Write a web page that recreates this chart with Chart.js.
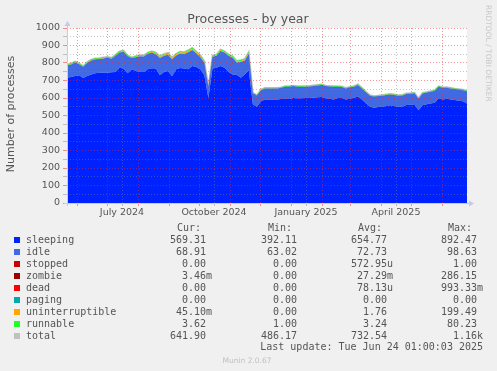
<!DOCTYPE html>
<html>
<head>
<meta charset="utf-8">
<script src="https://cdn.jsdelivr.net/npm/chart.js@4.4.0/dist/chart.umd.min.js"></script>
<style>
  html, body { margin: 0; padding: 0; background: #f0f0f0; }
  #wrap { width: 497px; height: 371px; }
</style>
</head>
<body>
<div id="wrap"><canvas id="procChart" width="497" height="371"></canvas></div>
<script>
// one sample every ~4 days over the 400 day window
const sleeping = [716,720,726,730,714,726,735,741,745,745,745,747,749,773,768,742,764,756,749,749,
  764,770,768,730,749,754,725,764,771,768,764,783,777,764,730,600,768,773,783,773,
  749,735,733,716,735,758,564,550,581,592,592,591,592,594,596,594,600,598,598,600,
  600,602,604,606,598,596,592,600,600,592,596,602,608,592,570,550,545,548,550,554,
  554,554,550,552,560,562,564,530,558,564,568,573,598,592,596,592,588,585,581,569];
const idle = [71,72,79,63,64,74,79,81,78,81,86,78,92,87,97,96,64,77,90,88,
  89,90,82,99,92,93,96,79,83,84,97,92,79,71,71,65,68,68,86,87,
  93,95,70,90,80,95,63,64,64,63,63,64,63,64,68,70,68,66,66,65,
  66,67,68,68,70,70,72,64,63,63,65,63,67,63,63,63,63,63,63,63,
  66,63,63,63,63,63,63,66,68,67,68,68,66,66,63,63,63,63,63,69];
const uninterruptible = [1,1,1,1,1,1,2,1,1,2,1,1,2,2,2,1,1,2,2,2,
  3,4,5,6,6,6,6,6,7,6,7,7,6,6,5,1,3,3,4,3,
  3,5,5,6,5,6,1,1,1,1,1,1,1,1,1,1,1,1,1,1,
  1,1,1,1,1,1,1,1,1,1,1,1,1,1,1,1,1,1,1,1,
  1,1,1,1,1,1,1,1,1,1,1,1,1,1,1,1,1,1,1,0];
const runnable = [4,5,4,5,4,5,5,4,5,5,4,5,5,6,5,5,4,5,5,5,
  5,5,5,5,5,6,5,5,6,5,6,6,5,5,5,3,5,5,5,5,
  5,5,5,5,5,6,2,2,3,3,3,3,3,3,3,3,3,3,3,3,
  3,3,3,3,3,3,3,3,3,3,3,3,3,3,3,3,3,3,3,3,
  3,3,3,3,3,3,3,3,3,3,3,3,3,3,3,3,3,3,3,4];
const total = [792,798,810,799,783,806,821,827,829,833,836,831,848,868,872,844,833,840,846,844,
  861,869,860,840,852,859,832,854,866,863,874,888,867,846,811,669,844,849,878,868,
  850,840,813,817,825,865,630,617,649,659,659,659,659,662,668,668,672,668,668,669,
  670,673,676,678,672,670,668,668,667,659,665,669,679,659,637,617,612,615,617,621,
  624,621,617,619,627,629,631,600,630,635,640,645,668,662,663,659,655,652,648,642];

const spanDays = 400;
// day offsets from the start of the window (22 May 2024)
const monthStartDays = [10,40,71,102,132,163,193,224,255,283,314,344,375];
const labelDays = [55,147,239,329];
const labelTexts = ['July 2024','October 2024','January 2025','April 2025'];
const yGrid = [];
for (let v = 0; v <= 1000; v += 50) yGrid.push(v);

// legend table
const seriesNames = ['sleeping','idle','stopped','zombie','dead','paging','uninterruptible','runnable','total'];
const seriesColors = ['#0022ff','#4169e1','#cc0000','#990000','#ff0000','#00aaaa','#ffa500','#22ff22','#c0c0c0'];
const curValues = ['569.31','68.91','0.00','3.46m','0.00','0.00','45.10m','3.62','641.90'];
const minValues = ['392.11','63.02','0.00','0.00','0.00','0.00','0.00','1.00','486.17'];
const avgValues = ['654.77','72.73','572.95u','27.29m','78.13u','0.00','1.76','3.24','732.54'];
const maxValues = ['892.47','98.63','1.00','286.15','993.33m','0.00','199.49','80.23','1.16k'];

const toPoints = (arr) => arr.map((v, i) => ({ x: i * spanDays / (arr.length - 1), y: v }));

const area = (label, data, color, fill) => ({
  label, data: toPoints(data), stack: 'procs',
  backgroundColor: color, borderWidth: 0, pointRadius: 0, fill, tension: 0
});

const MGRID = 'rgba(240,40,40,0.5)';
const GRID = 'rgba(130,130,130,0.45)';
const AXIS = '#c4c8f4';
const TEXT = '#555';

const rrdDecor = {
  id: 'rrdDecor',
  beforeDraw(chart) {
    const { ctx, chartArea: a } = chart;
    ctx.save();
    ctx.fillStyle = '#f0f0f0';
    ctx.fillRect(0, 0, chart.width, chart.height);
    ctx.fillStyle = '#ffffff';
    ctx.fillRect(a.left, a.top, a.right - a.left, a.bottom - a.top);
    ctx.restore();
  },
  afterDraw(chart) {
    const { ctx, chartArea: a } = chart;
    ctx.save();
    // axes with arrows
    ctx.strokeStyle = AXIS;
    ctx.fillStyle = AXIS;
    ctx.lineWidth = 1;
    ctx.beginPath();
    ctx.moveTo(a.left - 3, a.bottom + 0.5);
    ctx.lineTo(a.right + 3, a.bottom + 0.5);
    ctx.moveTo(a.left + 0.5, a.bottom + 3);
    ctx.lineTo(a.left + 0.5, a.top - 3);
    ctx.stroke();
    ctx.beginPath();
    ctx.moveTo(a.right + 7, a.bottom + 0.5);
    ctx.lineTo(a.right + 2, a.bottom - 2.5);
    ctx.lineTo(a.right + 2, a.bottom + 3.5);
    ctx.closePath();
    ctx.fill();
    ctx.beginPath();
    ctx.moveTo(a.left + 0.5, a.top - 7);
    ctx.lineTo(a.left - 2.5, a.top - 2);
    ctx.lineTo(a.left + 3.5, a.top - 2);
    ctx.closePath();
    ctx.fill();

    // title and axis title
    ctx.fillStyle = TEXT;
    ctx.textAlign = 'center';
    ctx.textBaseline = 'middle';
    ctx.font = '12.5px "DejaVu Sans"';
    ctx.fillText('Processes - by year', 248, 20);
    ctx.save();
    ctx.translate(11, 114);
    ctx.rotate(-Math.PI / 2);
    ctx.font = '11px "DejaVu Sans"';
    ctx.fillText('Number of processes', 0, 0);
    ctx.restore();

    // watermark
    ctx.save();
    ctx.fillStyle = '#c8c8c8';
    ctx.font = '7.5px "DejaVu Sans"';
    ctx.translate(488, 5);
    ctx.rotate(Math.PI / 2);
    ctx.textAlign = 'left';
    ctx.fillText('RRDTOOL / TOBI OETIKER', 0, 0);
    ctx.restore();
    ctx.fillStyle = '#c0c0c0';
    ctx.font = '7.5px "DejaVu Sans"';
    ctx.fillText('Munin 2.0.67', 247, 361);

    // legend table
    ctx.font = '10px "DejaVu Sans Mono"';
    ctx.fillStyle = TEXT;
    ctx.textAlign = 'right';
    const heads = [['Cur:', 201], ['Min:', 292], ['Avg:', 382], ['Max:', 472]];
    heads.forEach(([t, x]) => ctx.fillText(t, x, 228));
    const edges = [206, 297, 387, 477];
    const cols = [curValues, minValues, avgValues, maxValues];
    seriesNames.forEach((name, k) => {
      const y = 240 + k * 12;
      ctx.fillStyle = seriesColors[k];
      ctx.fillRect(14, y - 3, 6, 6);
      ctx.fillStyle = TEXT;
      ctx.textAlign = 'left';
      ctx.fillText(name, 26, y);
      cols.forEach((col, c) => {
        const m = col[k].match(/^(.*?)([a-zA-Z]?)$/);
        ctx.textAlign = 'right';
        ctx.fillText(m[1], edges[c], y);
        if (m[2]) {
          ctx.textAlign = 'left';
          ctx.fillText(m[2], edges[c], y);
        }
      });
    });
    ctx.textAlign = 'right';
    ctx.fillText('Last update: Tue Jun 24 01:00:03 2025', 483, 347.5);
    ctx.restore();
  }
};

new Chart(document.getElementById('procChart'), {
  type: 'line',
  data: {
    datasets: [
      area('sleeping', sleeping, '#0022ff', 'origin'),
      area('idle', idle, '#4169e1', '-1'),
      area('uninterruptible', uninterruptible, '#ffa500', '-1'),
      area('runnable', runnable, '#22ff22', '-1'),
      {
        label: 'total', data: toPoints(total), stack: 'total',
        borderColor: '#c0c0c0', borderWidth: 1.5, pointRadius: 0, fill: false, tension: 0
      }
    ]
  },
  options: {
    responsive: false,
    animation: false,
    devicePixelRatio: 1,
    layout: { padding: { left: 7, right: 30, top: 28, bottom: 148 } },
    plugins: { legend: { display: false }, tooltip: { enabled: false } },
    scales: {
      x: {
        type: 'linear', min: 0, max: spanDays,
        afterBuildTicks: (scale) => {
          scale.ticks = monthStartDays.concat(labelDays).map(v => ({ value: v }));
        },
        afterFit: (scale) => { scale.height = 20; },
        ticks: {
          autoSkip: false, maxRotation: 0, padding: 1,
          color: TEXT, font: { family: 'DejaVu Sans', size: 9.5 },
          callback: (v) => {
            const k = labelDays.indexOf(v);
            return k >= 0 ? labelTexts[k] : '';
          }
        },
        grid: {
          z: 1,
          tickLength: 3,
          color: (c) => monthStartDays.includes(c.tick.value) ? MGRID : GRID
        },
        border: { display: false, dash: [1, 2] }
      },
      y: {
        stacked: true, min: 0, max: 1000,
        afterBuildTicks: (scale) => { scale.ticks = yGrid.map(v => ({ value: v })); },
        afterFit: (scale) => { scale.width = 60; },
        ticks: {
          autoSkip: false, padding: 3,
          color: TEXT, font: { family: 'DejaVu Sans', size: 9.5 },
          callback: (v) => (v % 100 === 0 ? String(v) : '')
        },
        grid: {
          z: 1,
          tickLength: 4,
          color: (c) => (c.tick.value % 100 === 0 ? MGRID : GRID)
        },
        border: { display: false, dash: [1, 2] }
      }
    }
  },
  plugins: [rrdDecor]
});
</script>
</body>
</html>
